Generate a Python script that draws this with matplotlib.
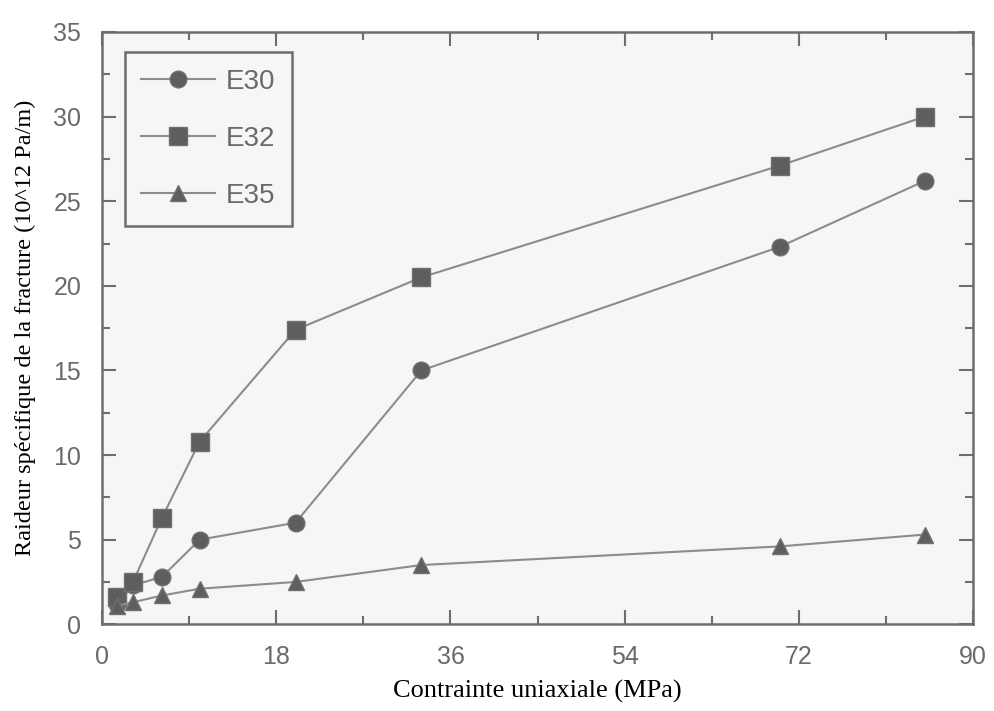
import matplotlib
matplotlib.use("Agg")
import matplotlib.pyplot as plt
from matplotlib.ticker import MultipleLocator

# Data
stress = [1.6, 3.2, 6.2, 10.1, 20.0, 33.0, 70.0, 85.0]
e30 = [1.2, 2.3, 2.8, 5.0, 6.0, 15.0, 22.3, 26.2]
e32 = [1.6, 2.5, 6.3, 10.8, 17.4, 20.5, 27.1, 30.0]
e35 = [1.1, 1.3, 1.7, 2.1, 2.5, 3.5, 4.6, 5.3]
series_names = ["E30", "E32", "E35"]
x_ticks = [0, 18, 36, 54, 72, 90]
y_ticks = [0, 5, 10, 15, 20, 25, 30, 35]

fig = plt.figure(figsize=(9.94, 7.11), dpi=100)
fig.patch.set_facecolor("white")
ax = fig.add_axes([0.1026, 0.122, 0.8764, 0.833])
ax.set_facecolor("#f6f6f6")

line_c = "#8c8c8c"
mark_c = "#5e5e5e"
edge_c = "#707070"

ax.plot(stress, e30, color=line_c, lw=1.5, marker="o", ms=12,
        mfc=mark_c, mec=edge_c, mew=1.0, label=series_names[0], zorder=3)
ax.plot(stress, e32, color=line_c, lw=1.5, marker="s", ms=13,
        mfc=mark_c, mec=edge_c, mew=1.0, label=series_names[1], zorder=3)
ax.plot(stress, e35, color=line_c, lw=1.5, marker="^", ms=11,
        mfc=mark_c, mec=edge_c, mew=1.0, label=series_names[2], zorder=3)

ax.set_xlim(0, 90)
ax.set_ylim(0, 35)
ax.set_xticks(x_ticks)
ax.set_yticks(y_ticks)
ax.xaxis.set_minor_locator(MultipleLocator(9))
ax.yaxis.set_minor_locator(MultipleLocator(2.5))

spine_c = "#6e6e6e"
for s in ax.spines.values():
    s.set_color(spine_c)
    s.set_linewidth(1.8)

ax.tick_params(which="both", direction="in", top=True, right=True,
               color=spine_c, width=1.5)
ax.tick_params(which="major", length=10, labelsize=18, labelcolor="#6a6a6a", pad=15)
ax.tick_params(which="minor", length=6)
for lab in ax.get_xticklabels() + ax.get_yticklabels():
    lab.set_fontfamily("Liberation Sans")

ax.set_xlabel("Contrainte uniaxiale (MPa)", fontfamily="Liberation Serif",
              fontsize=19, color="black", labelpad=8)
ax.set_ylabel("Raideur spécifique de la fracture (10^12 Pa/m)",
              fontfamily="Liberation Serif", fontsize=17.5, color="black", labelpad=12)

leg = ax.legend(loc="upper left", bbox_to_anchor=(0.026, 0.966),
                prop={"family": "Liberation Sans", "size": 20},
                frameon=True, fancybox=False, handlelength=2.65,
                handletextpad=0.4, labelspacing=1.12, borderpad=0.6,
                borderaxespad=0.0)
leg.get_frame().set_edgecolor(spine_c)
leg.get_frame().set_linewidth(1.8)
leg.get_frame().set_facecolor("#f6f6f6")
leg.get_frame().set_alpha(1.0)
for t in leg.get_texts():
    t.set_color("#6a6a6a")

fig.savefig("out.png", dpi=100)
